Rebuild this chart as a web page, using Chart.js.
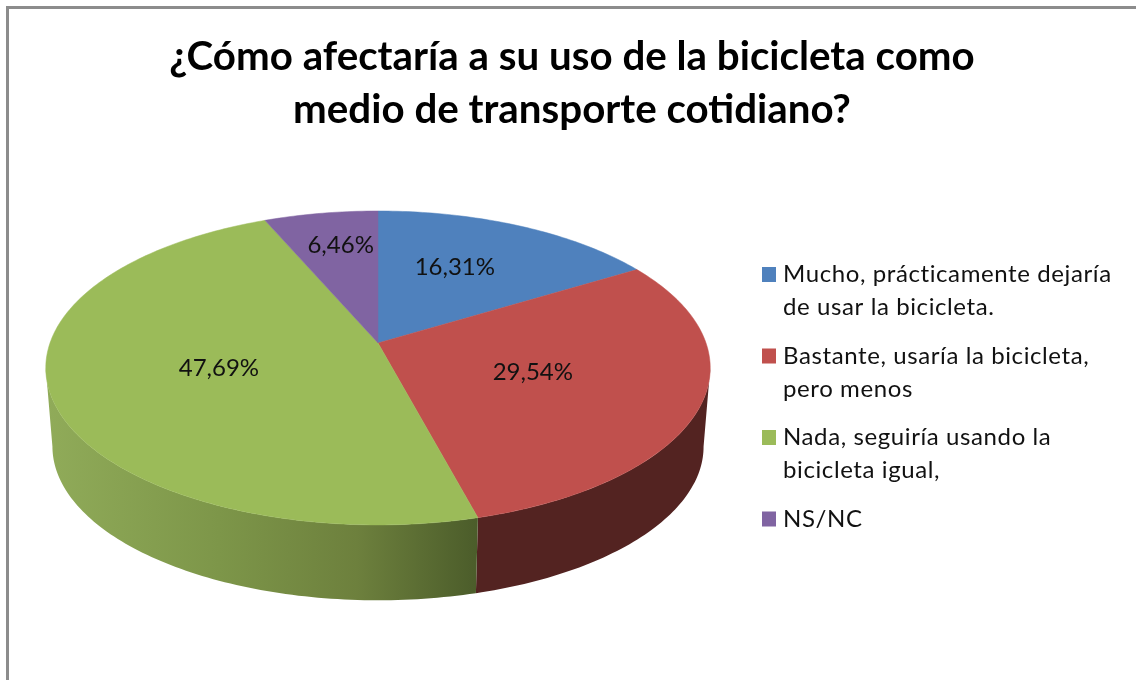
<!DOCTYPE html>
<html>
<head>
<meta charset="utf-8">
<style>
  html, body { margin: 0; padding: 0; background: #fff; overflow: hidden; }
  canvas { display: block; }
</style>
<script src="https://cdn.jsdelivr.net/npm/chart.js@4/dist/chart.umd.min.js"></script>
</head>
<body>
<canvas id="pieChart" width="1136" height="680"></canvas>
<script>
// data
const titleLines = ['¿Cómo afectaría a su uso de la bicicleta como', 'medio de transporte cotidiano?'];
const legendLines = [
    ['Mucho, prácticamente dejaría', 'de usar la bicicleta.'],
    ['Bastante, usaría la bicicleta,', 'pero menos'],
    ['Nada, seguiría usando la', 'bicicleta igual,'],
    ['NS/NC']
];
const values = [16.31, 29.54, 47.69, 6.46];
const valueLabels = ['16,31%', '29,54%', '47,69%', '6,46%'];
const colors = ['#4f81bd', '#c0504d', '#9bbb59', '#8064a2'];

// 3D look: projective map of the unit disc, same shape Excel gives a tilted pie
const FONT = 'Lato, "Open Sans", sans-serif';
const apex = { x: 378, y: 343 };
const tilt = { a: 328, k: 153, p: 0.159 };
const wallDrop = 79;
const wallScale = 0.98;
const labelRadius = [0.62, 0.5, 0.5, 0.73];
const labelNudge = [-15, -2, 0, 6];

function project(angle, frac, scale, drop) {
    const th = angle + Math.PI / 2;
    const u = frac * Math.sin(th);
    const v = frac * Math.cos(th);
    const w = 1 + tilt.p * v;
    return {
        x: apex.x + scale * tilt.a * u / w,
        y: apex.y + drop - scale * tilt.k * v / w
    };
}

function wallFill(ctx, index) {
    if (index === 2) {
        const g = ctx.createLinearGradient(47, 0, 478, 0);
        g.addColorStop(0, '#90ab59');
        g.addColorStop(0.4, '#7d9649');
        g.addColorStop(0.72, '#6d803d');
        g.addColorStop(1, '#4b5c2a');
        return g;
    }
    return index === 1 ? '#532321' : colors[index];
}

const pie3d = {
    id: 'pie3d',
    beforeDraw(chart) {
        const ctx = chart.ctx;
        ctx.save();
        ctx.fillStyle = '#fff';
        ctx.fillRect(0, 0, chart.width, chart.height);
        ctx.fillStyle = '#8c8c8c';
        ctx.fillRect(6, 6, chart.width - 6, 3);
        ctx.fillRect(6, 6, 3, chart.height - 6);
        ctx.restore();
    },
    beforeDatasetsDraw(chart) {
        const ctx = chart.ctx;
        const arcs = chart.getDatasetMeta(0).data;
        const step = Math.PI / 180;
        // angles of the front side of the pie, the only part of the wall that shows
        const frontFrom = Math.acos(-tilt.p) - Math.PI / 2;
        const frontTo = 2 * Math.PI - Math.acos(-tilt.p) - Math.PI / 2;

        ctx.save();
        arcs.forEach((arc, i) => {
            const from = Math.max(arc.startAngle, frontFrom);
            const to = Math.min(arc.endAngle, frontTo);
            if (to <= from) return;
            const top = [], bottom = [];
            for (let a = from; a < to; a += step) {
                top.push(project(a, 1, 1, 0));
                bottom.push(project(a, 1, wallScale, wallDrop));
            }
            top.push(project(to, 1, 1, 0));
            bottom.push(project(to, 1, wallScale, wallDrop));
            ctx.beginPath();
            top.forEach((p, n) => n ? ctx.lineTo(p.x, p.y) : ctx.moveTo(p.x, p.y));
            bottom.reverse().forEach(p => ctx.lineTo(p.x, p.y));
            ctx.closePath();
            ctx.fillStyle = wallFill(ctx, i);
            ctx.fill();
        });

        arcs.forEach((arc, i) => {
            ctx.beginPath();
            ctx.moveTo(apex.x, apex.y);
            for (let a = arc.startAngle; a < arc.endAngle; a += step) {
                const p = project(a, 1, 1, 0);
                ctx.lineTo(p.x, p.y);
            }
            const end = project(arc.endAngle, 1, 1, 0);
            ctx.lineTo(end.x, end.y);
            ctx.closePath();
            ctx.fillStyle = colors[i];
            ctx.strokeStyle = colors[i];
            ctx.lineWidth = 0.5;
            ctx.fill();
            ctx.stroke();
        });

        // value labels
        ctx.fillStyle = '#111';
        ctx.font = '24px ' + FONT;
        ctx.textAlign = 'center';
        ctx.textBaseline = 'middle';
        arcs.forEach((arc, i) => {
            const mid = (arc.startAngle + arc.endAngle) / 2;
            const p = project(mid, labelRadius[i], 1, 0);
            ctx.fillText(valueLabels[i], p.x + labelNudge[i], p.y);
        });

        // legend
        ctx.textAlign = 'left';
        ctx.textBaseline = 'alphabetic';
        ctx.font = '24px ' + FONT;
        ctx.letterSpacing = '0.6px';
        legendLines.forEach((lines, i) => {
            const base = 282 + i * 81.5;
            ctx.fillStyle = colors[i];
            ctx.fillRect(762, base - 15, 14, 15);
            ctx.fillStyle = '#111';
            lines.forEach((line, n) => ctx.fillText(line, 783, base + n * 33));
        });
        ctx.restore();
        return false; // walls and faces are painted above
    }
};

new Chart(document.getElementById('pieChart'), {
    type: 'pie',
    data: {
        labels: legendLines.map(l => l.join(' ')),
        datasets: [{ data: values, backgroundColor: colors, borderWidth: 0 }]
    },
    options: {
        responsive: false,
        animation: false,
        layout: { padding: { left: 8, top: 31 } },
        plugins: {
            legend: { display: false },
            tooltip: { enabled: false },
            title: {
                display: true,
                text: titleLines,
                color: '#000',
                font: { family: FONT, size: 40.3, weight: 'bold', lineHeight: 1.31 },
                padding: 0
            }
        }
    },
    plugins: [pie3d]
});
</script>
</body>
</html>
